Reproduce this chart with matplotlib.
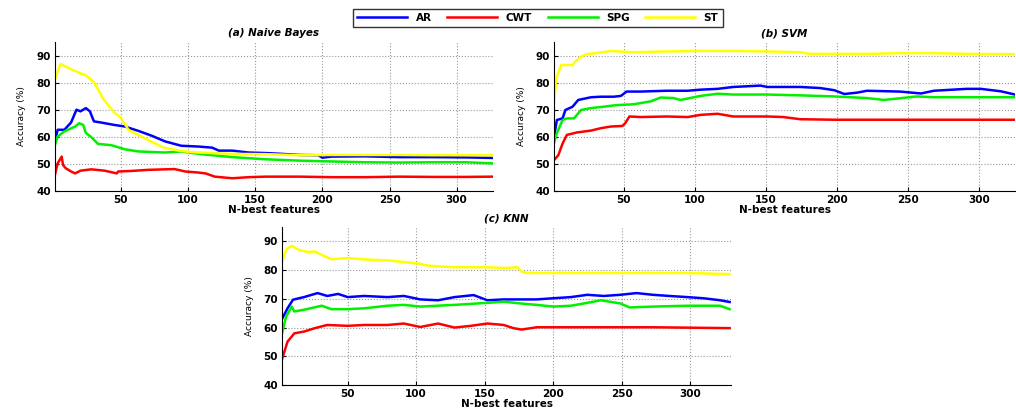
import matplotlib
matplotlib.use("Agg")
import matplotlib.pyplot as plt

# (a) Naive Bayes
nb_st_x = [1, 5, 12, 20, 23, 30, 37, 45, 50, 56, 65, 72, 82, 92, 100, 108, 133, 158, 183, 207, 232, 257, 282, 307, 327]
nb_st_y = [81.1, 86.9, 85.2, 83.4, 83.0, 80.2, 74.0, 69.0, 67.0, 62.4, 60.2, 58.4, 56.0, 55.0, 54.5, 54.2, 53.7, 53.6, 53.2, 53.3, 53.3, 53.3, 53.2, 53.2, 53.2]
nb_ar_x = [1, 3, 8, 13, 17, 20, 24, 27, 30, 35, 45, 53, 63, 73, 83, 95, 108, 118, 123, 133, 145, 158, 170, 183, 197, 200, 207, 232, 257, 282, 307, 327]
nb_ar_y = [58.5, 62.6, 62.6, 65.3, 70.0, 69.4, 70.6, 69.4, 65.7, 65.3, 64.4, 63.8, 62.2, 60.4, 58.3, 56.7, 56.4, 56.0, 54.9, 54.9, 54.2, 54.0, 53.7, 53.3, 53.2, 52.3, 52.7, 52.8, 52.5, 52.5, 52.4, 52.2]
nb_spg_x = [1, 3, 8, 16, 19, 22, 24, 28, 33, 43, 53, 63, 83, 95, 108, 133, 158, 183, 207, 232, 257, 282, 307, 327]
nb_spg_y = [57.0, 60.1, 62.0, 63.8, 65.0, 64.4, 61.4, 59.9, 57.4, 56.9, 55.4, 54.6, 54.2, 54.6, 53.7, 52.5, 51.7, 51.2, 50.9, 50.6, 50.5, 50.6, 50.6, 50.2]
nb_cwt_x = [1, 3, 6, 7, 9, 13, 16, 20, 28, 38, 47, 48, 58, 70, 83, 90, 98, 108, 113, 120, 133, 145, 158, 183, 207, 232, 257, 282, 307, 327]
nb_cwt_y = [46.0, 50.2, 52.7, 49.6, 48.4, 47.2, 46.5, 47.5, 48.0, 47.5, 46.5, 47.2, 47.4, 47.8, 48.0, 48.1, 47.2, 46.8, 46.5, 45.3, 44.7, 45.1, 45.3, 45.3, 45.1, 45.1, 45.3, 45.2, 45.2, 45.3]

# (b) SVM
svm_st_x = [1, 3, 6, 10, 14, 16, 20, 24, 34, 41, 57, 80, 104, 127, 151, 174, 181, 198, 221, 244, 268, 291, 325]
svm_st_y = [73.0, 82.2, 86.5, 86.5, 86.5, 87.8, 89.6, 90.5, 91.1, 91.7, 91.2, 91.5, 91.7, 91.7, 91.5, 91.2, 90.6, 90.6, 90.6, 90.9, 90.9, 90.6, 90.5]
svm_ar_x = [1, 3, 7, 9, 14, 18, 27, 34, 43, 48, 52, 62, 80, 95, 104, 116, 127, 146, 151, 174, 188, 198, 205, 214, 221, 244, 259, 268, 291, 301, 315, 325]
svm_ar_y = [60.0, 66.2, 66.8, 69.9, 71.1, 73.6, 74.6, 74.8, 74.8, 75.1, 76.7, 76.7, 77.0, 77.0, 77.4, 77.7, 78.4, 78.9, 78.4, 78.4, 78.0, 77.2, 75.8, 76.3, 77.0, 76.7, 76.0, 77.0, 77.7, 77.7, 76.8, 75.6]
svm_spg_x = [1, 3, 7, 10, 15, 20, 27, 34, 45, 57, 69, 76, 85, 90, 104, 116, 127, 151, 174, 198, 221, 233, 256, 268, 291, 325]
svm_spg_y = [57.7, 61.4, 66.2, 66.8, 66.8, 69.9, 70.6, 71.0, 71.7, 72.0, 73.1, 74.5, 74.3, 73.6, 75.1, 75.9, 75.6, 75.6, 75.3, 74.9, 74.3, 73.6, 74.9, 74.6, 74.6, 74.6]
svm_cwt_x = [1, 4, 7, 10, 17, 27, 34, 41, 49, 51, 54, 62, 80, 95, 104, 116, 127, 151, 162, 174, 198, 221, 244, 268, 325]
svm_cwt_y = [51.4, 53.2, 57.5, 60.7, 61.6, 62.3, 63.2, 63.8, 64.0, 65.0, 67.5, 67.3, 67.5, 67.3, 68.1, 68.5, 67.5, 67.5, 67.3, 66.5, 66.3, 66.3, 66.3, 66.3, 66.3]

# (c) KNN
knn_st_x = [2, 5, 9, 14, 21, 26, 31, 38, 50, 60, 67, 79, 91, 103, 108, 116, 128, 152, 164, 174, 177, 181, 200, 225, 249, 273, 298, 329]
knn_st_y = [83.0, 87.1, 88.5, 87.1, 86.3, 86.5, 85.3, 83.8, 84.2, 83.8, 83.6, 83.4, 82.8, 82.2, 81.6, 81.3, 81.0, 81.0, 80.7, 81.0, 79.5, 79.0, 79.0, 79.0, 79.0, 79.0, 79.0, 78.6]
knn_ar_x = [2, 6, 10, 18, 28, 35, 43, 50, 62, 79, 91, 103, 116, 128, 142, 152, 164, 188, 200, 213, 225, 237, 249, 261, 273, 285, 298, 310, 322, 329]
knn_ar_y = [63.0, 66.7, 69.7, 70.6, 72.0, 71.0, 71.7, 70.6, 71.0, 70.6, 71.0, 69.8, 69.5, 70.6, 71.3, 69.5, 69.8, 69.8, 70.2, 70.6, 71.4, 71.0, 71.4, 72.0, 71.4, 71.0, 70.6, 70.2, 69.5, 68.9]
knn_spg_x = [2, 5, 9, 11, 18, 31, 38, 50, 62, 79, 91, 103, 128, 152, 164, 176, 188, 200, 213, 225, 235, 249, 256, 273, 298, 322, 329]
knn_spg_y = [58.0, 63.8, 67.3, 65.6, 66.2, 67.6, 66.4, 66.4, 66.7, 67.6, 67.9, 67.3, 67.9, 68.6, 69.0, 68.4, 67.9, 67.3, 67.6, 68.6, 69.5, 68.4, 67.0, 67.3, 67.6, 67.6, 66.4]
knn_cwt_x = [2, 6, 11, 18, 26, 35, 50, 62, 79, 91, 103, 116, 128, 140, 152, 164, 171, 177, 188, 200, 225, 273, 329]
knn_cwt_y = [49.0, 55.1, 58.0, 58.6, 59.8, 60.9, 60.6, 60.9, 60.9, 61.4, 60.2, 61.4, 60.0, 60.6, 61.4, 60.9, 59.8, 59.3, 60.1, 60.1, 60.1, 60.1, 59.8]

series_names = ["AR", "CWT", "SPG", "ST"]
series_colors = ["#0000ff", "#ff0000", "#00f000", "#ffff00"]
x_ticks = [50, 100, 150, 200, 250, 300]
y_ticks = [40, 50, 60, 70, 80, 90]

panels = [
    ("(a) Naive Bayes", [0.0541, 0.5364, 0.4311, 0.3617], (1, 327),
     [(nb_ar_x, nb_ar_y), (nb_cwt_x, nb_cwt_y), (nb_spg_x, nb_spg_y), (nb_st_x, nb_st_y)]),
    ("(b) SVM", [0.5453, 0.5364, 0.4537, 0.3617], (1, 325),
     [(svm_ar_x, svm_ar_y), (svm_cwt_x, svm_cwt_y), (svm_spg_x, svm_spg_y), (svm_st_x, svm_st_y)]),
    ("(c) KNN", [0.2776, 0.0655, 0.4419, 0.3835], (2, 330),
     [(knn_ar_x, knn_ar_y), (knn_cwt_x, knn_cwt_y), (knn_spg_x, knn_spg_y), (knn_st_x, knn_st_y)]),
]

fig = plt.figure(figsize=(10.16, 4.12), dpi=100)
plt.rcParams['font.family'] = ['DejaVu Sans']

handles = []
for title, rect, xlim, data in panels:
    ax = fig.add_axes(rect)
    lines = []
    for (xs, ys), name, col in zip(data, series_names, series_colors):
        ln, = ax.plot(xs, ys, color=col, lw=1.8, label=name)
        lines.append(ln)
    handles = lines
    ax.set_xlim(*xlim)
    ax.set_ylim(40, 95)
    ax.set_xticks(x_ticks)
    ax.set_yticks(y_ticks)
    ax.grid(True, linestyle=':', color='#999999', lw=0.8)
    for s in ["top", "right"]:
        ax.spines[s].set_visible(False)
    ax.tick_params(direction='in', length=3, labelsize=7.5, pad=3)
    for lab in ax.get_xticklabels() + ax.get_yticklabels():
        lab.set_fontweight('bold')
    ax.set_title(title, fontsize=7.5, fontweight='bold', style='italic', pad=4)
    ax.set_xlabel("N-best features", fontsize=7.5, fontweight='bold', labelpad=0)
    ax.set_ylabel("Accuracy (%)", fontsize=6.5, labelpad=7)

leg = fig.legend(handles, series_names, loc='center', bbox_to_anchor=(0.5295, 0.956),
                 ncol=4, handlelength=4.8, fontsize=7.5, frameon=True, fancybox=False,
                 borderpad=0.4, columnspacing=1.5, handletextpad=0.8)
leg.get_frame().set_edgecolor('black')
leg.get_frame().set_linewidth(1.0)
for t in leg.get_texts():
    t.set_fontweight('bold')

fig.savefig("out.png", dpi=100)
